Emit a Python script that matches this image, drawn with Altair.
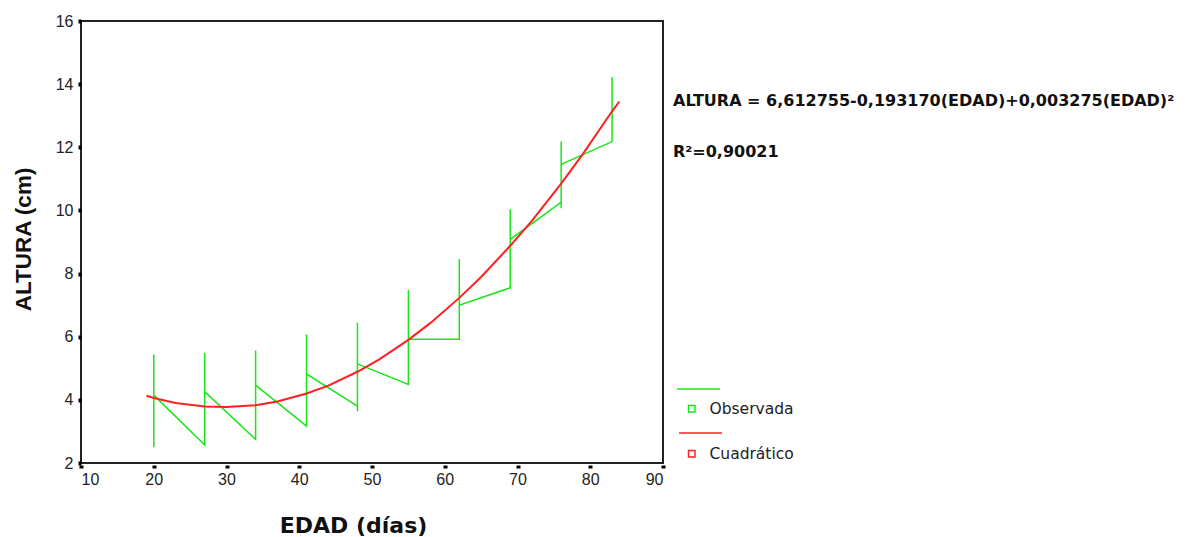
import altair as alt
import pandas as pd

# Observed data (EDAD in days, ALTURA in cm), in data order
edad_obs = [20, 20, 20, 27, 27, 27, 34, 34, 34, 41, 41, 41, 48, 48, 48, 48,
            55, 55, 55, 62, 62, 62, 69, 69, 69, 76, 76, 76, 76, 83, 83]
altura_obs = [2.50, 5.44, 4.15, 2.57, 5.49, 4.26, 2.75, 5.56, 4.47, 3.17, 6.07, 4.82,
              3.80, 3.64, 6.44, 5.14, 4.49, 7.48, 5.92, 5.92, 8.46, 7.00,
              7.55, 10.04, 9.08, 10.26, 10.07, 12.18, 11.46, 12.18, 14.22]

# Quadratic fit curve
edad_fit = [19, 20, 23, 27, 30, 34, 37, 41, 44, 48, 51, 55, 58, 62, 65, 69, 72, 76, 79, 83, 84]
altura_fit = [4.13, 4.06, 3.90, 3.79, 3.77, 3.83, 3.95, 4.20, 4.45, 4.89, 5.28, 5.90,
              6.43, 7.23, 7.89, 8.88, 9.68, 10.85, 11.79, 13.14, 13.45]

series = ["Observada", "Cuadrático"]
colors = ["#19e619", "#ff2020"]

x_ticks = [10, 20, 30, 40, 50, 60, 70, 80, 90]
y_ticks = [2, 4, 6, 8, 10, 12, 14, 16]

equation = "ALTURA = 6,612755-0,193170(EDAD)+0,003275(EDAD)²"
r2_text = "R²=0,90021"

FONT = "Liberation Sans"
WIDE = "DejaVu Sans"

df_obs = pd.DataFrame({"edad": edad_obs, "altura": altura_obs,
                       "idx": list(range(len(edad_obs))), "serie": series[0]})
df_fit = pd.DataFrame({"edad": edad_fit, "altura": altura_fit,
                       "idx": list(range(len(edad_fit))), "serie": series[1]})

xscale = alt.Scale(domain=[10, 90], nice=False, zero=False)
yscale = alt.Scale(domain=[2, 16], nice=False, zero=False)
cscale = alt.Scale(domain=series, range=colors)

xaxis = alt.Axis(values=x_ticks, title="EDAD (días)", offset=2, labelPadding=3,
                 titleX=272, titleY=67, titleAnchor="start", titleAlign="center",
                 titleBaseline="alphabetic", titleFont=WIDE, titleFontSize=22)
yaxis = alt.Axis(values=y_ticks, title="ALTURA (cm)", offset=0, labelPadding=5,
                 titleX=-51, titleY=218, titleAlign="center", titleAngle=270,
                 titleBaseline="alphabetic", titleFont=FONT, titleFontSize=22.5)

legend = alt.Legend(title=None, orient="none", legendX=603, legendY=380,
                    symbolType="square", symbolSize=42, symbolStrokeWidth=1.5,
                    symbolFillColor="white", labelFontSize=15.5, labelFont=WIDE,
                    labelColor="#222222", labelOffset=10, rowPadding=28)

obs = alt.Chart(df_obs).mark_line(strokeWidth=1.5).encode(
    x=alt.X("edad:Q", scale=xscale, axis=xaxis),
    y=alt.Y("altura:Q", scale=yscale, axis=yaxis),
    color=alt.Color("serie:N", scale=cscale, legend=legend, sort=series),
    order="idx:Q",
)

fit = alt.Chart(df_fit).mark_line(strokeWidth=2).encode(
    x=alt.X("edad:Q", scale=xscale),
    y=alt.Y("altura:Q", scale=yscale),
    color=alt.Color("serie:N", scale=cscale),
    order="idx:Q",
)

eq_df = pd.DataFrame({"t": [equation]})
eq = alt.Chart(eq_df).mark_text(align="left", baseline="middle", fontSize=16,
                                fontWeight="bold", font=WIDE, color="#111111").encode(
    x=alt.value(592), y=alt.value(80), text="t:N")

r2_df = pd.DataFrame({"t": [r2_text]})
r2 = alt.Chart(r2_df).mark_text(align="left", baseline="middle", fontSize=16,
                                fontWeight="bold", font=WIDE, color="#111111").encode(
    x=alt.value(592), y=alt.value(131), text="t:N")

dummy = pd.DataFrame({"a": [0]})
leg_line_obs = alt.Chart(dummy).mark_rule(color=colors[0], strokeWidth=1.5).encode(
    x=alt.value(596), x2=alt.value(639), y=alt.value(368))
leg_line_fit = alt.Chart(dummy).mark_rule(color=colors[1], strokeWidth=1.5).encode(
    x=alt.value(598), x2=alt.value(641), y=alt.value(412))

chart = alt.layer(obs, fit, eq, r2, leg_line_obs, leg_line_fit).properties(
    width=582, height=442,
    autosize=alt.AutoSizeParams(type="none"),
    padding={"left": 73, "top": 13, "right": 531, "bottom": 80},
    background="white",
).configure_view(
    stroke="#222222", strokeWidth=2
).configure_axis(
    domain=False, grid=False, ticks=True, tickColor="#000000", tickSize=3, tickWidth=4,
    labelFont=FONT, labelFontSize=16, labelColor="#222222",
    titleFontWeight="bold", titleColor="#111111",
)

chart.save("out.html", embed_options={"renderer": "svg", "actions": False})
